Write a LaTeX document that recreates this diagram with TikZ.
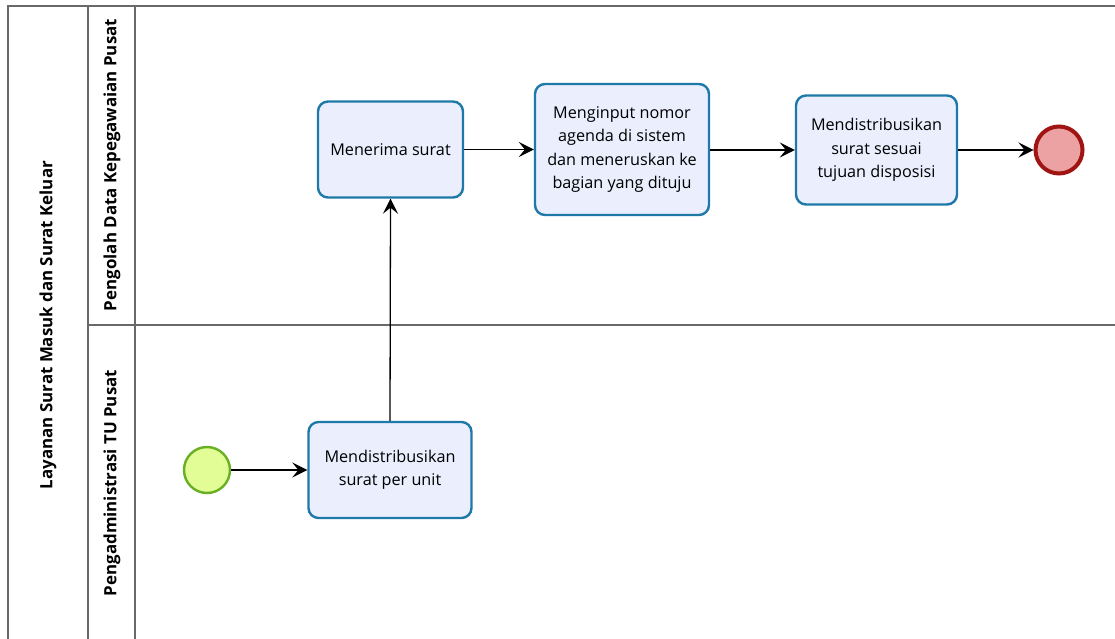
\documentclass[tikz,border=0pt]{standalone}
\usepackage{fontspec}
\setmainfont{Open Sans}
\usetikzlibrary{arrows.meta}
\definecolor{taskfill}{RGB}{234,238,253}
\definecolor{taskline}{RGB}{30,120,168}
\definecolor{startfill}{RGB}{226,253,150}
\definecolor{startline}{RGB}{105,175,35}
\definecolor{endfill}{RGB}{236,162,162}
\definecolor{endline}{RGB}{160,20,20}
\definecolor{poolline}{RGB}{105,105,105}
\tikzset{
  x=1pt, y=-1pt,
  task/.style={draw=taskline, fill=taskfill, line width=2.4pt, rounded corners=10pt,
    align=center, font=\fontsize{16.2}{23.3}\selectfont, inner sep=1pt},
  startev/.style={circle, draw=startline, fill=startfill, line width=2.4pt, minimum size=46pt, inner sep=0pt},
  endev/.style={circle, draw=endline, fill=endfill, line width=4pt, minimum size=47pt, inner sep=0pt},
  flow/.style={draw=black, line width=1.3pt, -{Stealth[length=15pt,width=15pt,inset=6pt]}},
  poolln/.style={draw=poolline, line width=1.3pt},
  lanelabel/.style={rotate=90, font=\bfseries\fontsize{16.9}{19}\selectfont, inner sep=0pt}
}
\begin{document}
\begin{tikzpicture}
\useasboundingbox (0,0) rectangle (1115,639);
\clip (0,0) rectangle (1115,639);
\fill[white] (0,0) rectangle (1115,639);
% pool and lanes
\draw[poolln] (1120,6) -- (8,6) -- (8,650);
\draw[poolln] (88,6) -- (88,650);
\draw[poolln] (135,6) -- (135,650);
\draw[poolln] (88,325) -- (1120,325);
\node[lanelabel] (pool) at (48,325) {Layanan Surat Masuk dan Surat Keluar};
\node[lanelabel] (lane1) at (112,165) {Pengolah Data Kepegawaian Pusat};
\node[lanelabel] (lane2) at (112,483) {Pengadministrasi TU Pusat};
% nodes
\node[startev] (start) at (207,470) {};
\node[task, minimum width=163pt, minimum height=96pt] (t1) at (390,470) {Mendistribusikan\\surat per unit};
\node[task, minimum width=145pt, minimum height=96pt] (t2) at (390.5,149.5) {Menerima surat};
\node[task, minimum width=174pt, minimum height=131pt] (t3) at (622,149.5) {Menginput nomor\\agenda di sistem\\dan meneruskan ke\\bagian yang dituju};
\node[task, minimum width=161pt, minimum height=109pt] (t4) at (876.5,150) {Mendistribusikan\\surat sesuai\\tujuan disposisi};
\node[endev] (end) at (1059,150) {};
% flows
\draw[flow] (start) -- (t1);
\draw[flow] (t1.north) -- (t2.south);
\draw[flow] (t2) -- (t3.west |- t2.east);
\draw[flow] (t3.east |- t4.west) -- (t4.west);
\draw[flow] (t4) -- (end);
\end{tikzpicture}
\end{document}
